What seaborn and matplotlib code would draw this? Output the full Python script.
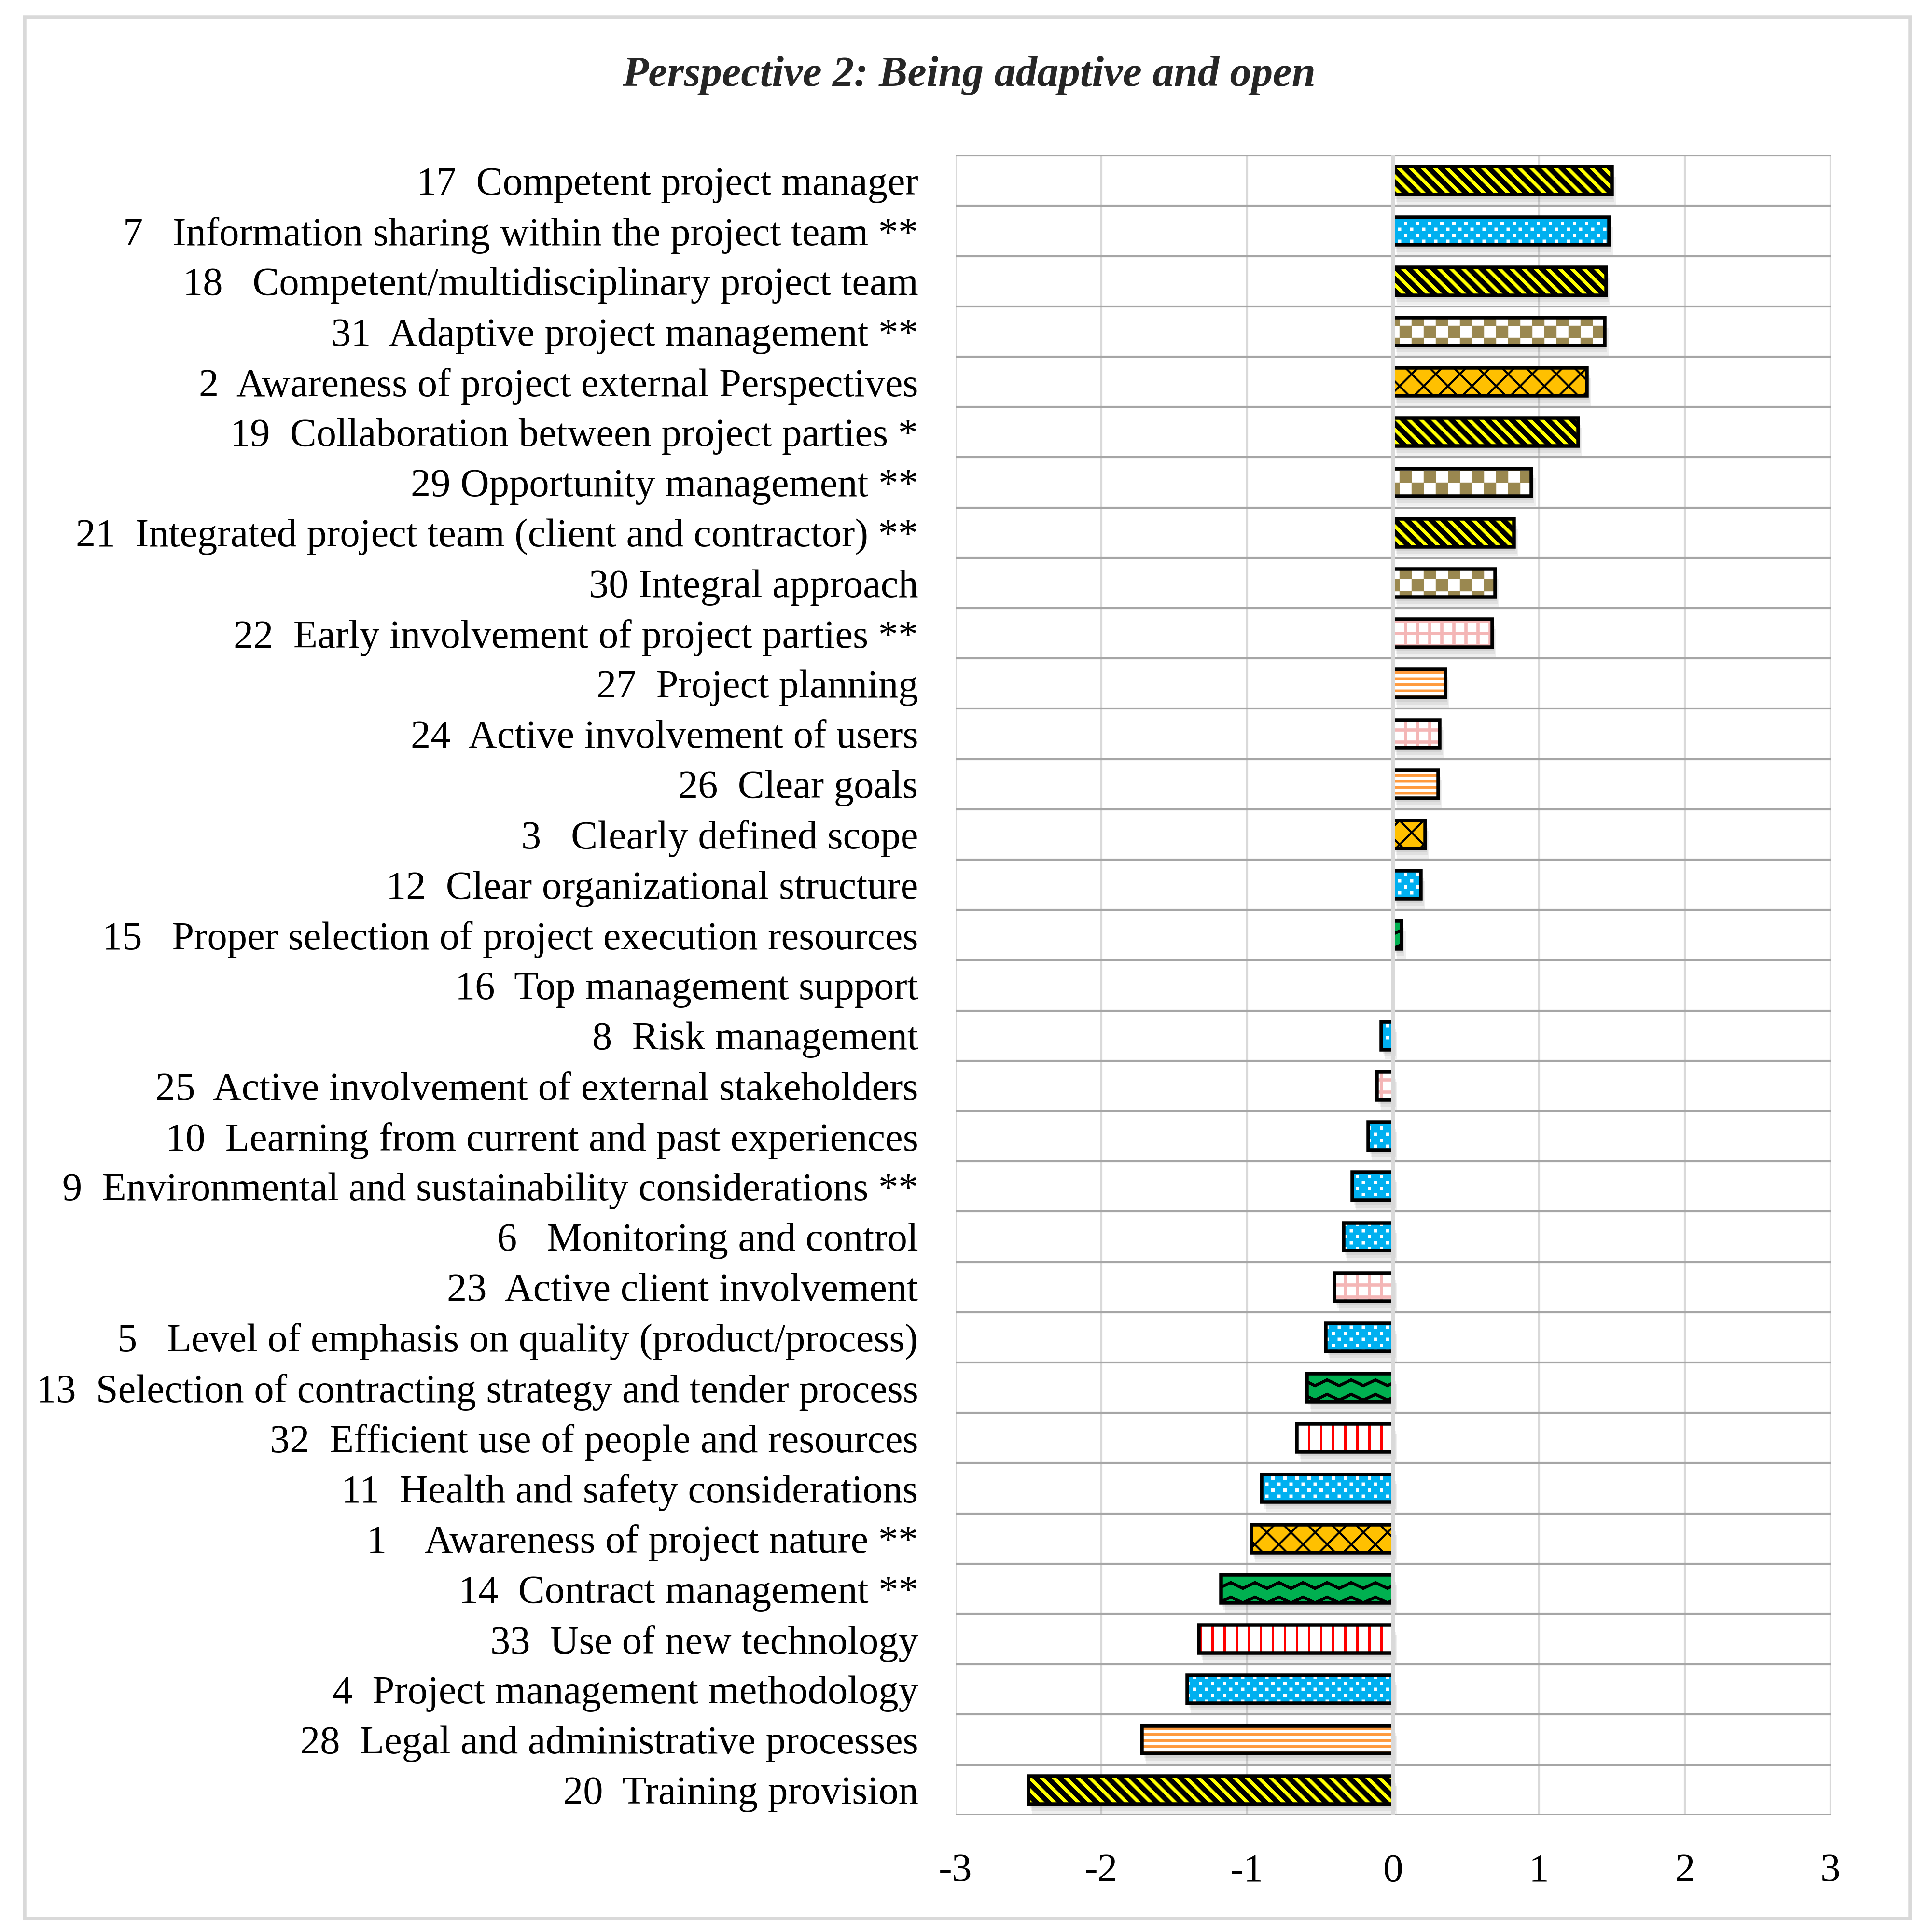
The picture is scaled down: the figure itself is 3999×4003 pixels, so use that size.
import numpy as np
import pandas as pd
import seaborn as sns
import matplotlib
matplotlib.use('Agg')
import matplotlib.pyplot as plt
import matplotlib.hatch as mhatch
import matplotlib.patheffects as pe
from matplotlib.path import Path
from matplotlib.colors import to_rgba
from matplotlib.patches import Rectangle
from matplotlib.transforms import Affine2D

title = 'Perspective 2: Being adaptive and open'

labels = [
    '17  Competent project manager',
    '7   Information sharing within the project team **',
    '18   Competent/multidisciplinary project team',
    '31  Adaptive project management **',
    '2  Awareness of project external Perspectives',
    '19  Collaboration between project parties *',
    '29 Opportunity management **',
    '21  Integrated project team (client and contractor) **',
    '30 Integral approach',
    '22  Early involvement of project parties **',
    '27  Project planning',
    '24  Active involvement of users',
    '26  Clear goals',
    '3   Clearly defined scope',
    '12  Clear organizational structure',
    '15   Proper selection of project execution resources',
    '16  Top management support',
    '8  Risk management',
    '25  Active involvement of external stakeholders',
    '10  Learning from current and past experiences',
    '9  Environmental and sustainability considerations **',
    '6   Monitoring and control',
    '23  Active client involvement',
    '5   Level of emphasis on quality (product/process)',
    '13  Selection of contracting strategy and tender process',
    '32  Efficient use of people and resources',
    '11  Health and safety considerations',
    '1    Awareness of project nature **',
    '14  Contract management **',
    '33  Use of new technology',
    '4  Project management methodology',
    '28  Legal and administrative processes',
    '20  Training provision',
]

values = [1.50, 1.48, 1.46, 1.45, 1.33, 1.27, 0.95, 0.83, 0.70, 0.68,
          0.36, 0.32, 0.31, 0.22, 0.19, 0.06, 0.00, -0.08, -0.11, -0.17,
          -0.28, -0.34, -0.40, -0.46, -0.59, -0.66, -0.90, -0.97, -1.18,
          -1.33, -1.41, -1.72, -2.50]

groups = ['diag', 'dots', 'diag', 'check', 'gold', 'diag', 'check', 'diag',
          'check', 'grid', 'hstripe', 'grid', 'hstripe', 'gold', 'dots',
          'green', 'diag', 'dots', 'grid', 'dots', 'dots', 'dots', 'grid',
          'dots', 'green', 'vstripe', 'dots', 'gold', 'green', 'vstripe',
          'dots', 'hstripe', 'diag']

xticks = [-3, -2, -1, 0, 1, 2, 3]

# face colour, hatch, hatch colour, hatch line width (pt)
styles = {
    'diag':    ('black', '\\\\\\\\', '#FFFF00', 1.7),
    'dots':    ('#00B0F0', 'oo', 'white', 0.3),
    'check':   ('white', 'OO', '#9A8850', 0.1),
    'gold':    ('#FFC000', 'xx', 'black', 1.0),
    'grid':    ('white', '++', '#F4B6B6', 1.6),
    'hstripe': ('white', '----', '#FF9A3C', 1.3),
    'green':   ('#00B050', '*', 'black', 1.4),
    'vstripe': ('white', '||', '#FF0000', 1.2),
}


# extra fill patterns (checkerboard, square dots, zigzag) in place of the
# circle / star hatches, which are not used here
class CheckerHatch(mhatch.HatchPatternBase):
    def __init__(self, hatch, density):
        self.n = hatch.count('O') * density
        self.cells = [(i, j) for i in range(self.n) for j in range(self.n)
                      if (i + j) % 2 == 0]
        self.num_vertices = len(self.cells) * 5

    def set_vertices_and_codes(self, vertices, codes):
        d = 1.0 / self.n
        box = np.array([[0, 0], [d, 0], [d, d], [0, d], [0, 0]])
        vertices[:] = np.concatenate([box + [i * d, j * d] for i, j in self.cells])
        codes[:] = np.tile([Path.MOVETO, Path.LINETO, Path.LINETO,
                            Path.LINETO, Path.CLOSEPOLY], len(self.cells))


class DotHatch(mhatch.HatchPatternBase):
    half = 0.0095

    def __init__(self, hatch, density):
        self.n = hatch.count('o') * density
        self.centers = []
        for r in range(2 * self.n + 1 if self.n else 0):
            y = r / (2 * self.n)
            if r % 2 == 0:
                xs = np.arange(self.n + 1) / self.n
            else:
                xs = (np.arange(self.n) + 0.5) / self.n
            self.centers += [(x, y) for x in xs]
        self.num_vertices = len(self.centers) * 5

    def set_vertices_and_codes(self, vertices, codes):
        h = self.half
        box = np.array([[-h, -h], [h, -h], [h, h], [-h, h], [-h, -h]])
        vertices[:] = np.concatenate([box + c for c in self.centers])
        codes[:] = np.tile([Path.MOVETO, Path.LINETO, Path.LINETO,
                            Path.LINETO, Path.CLOSEPOLY], len(self.centers))


class ZigZagHatch(mhatch.HatchPatternBase):
    amp = 0.02

    def __init__(self, hatch, density):
        c = hatch.count('*')
        self.rows = 10 * c
        self.teeth = 6 * c
        self.per_row = 2 * (2 * self.teeth + 1) - 1
        self.num_vertices = self.rows * self.per_row

    def set_vertices_and_codes(self, vertices, codes):
        xs = np.linspace(0, 1, 2 * self.teeth + 1)
        wave = np.where(np.arange(len(xs)) % 2 == 0, self.amp, -self.amp)
        parts = []
        for k in range(self.rows):
            line = np.column_stack([xs, (k + 0.5) / self.rows + wave])
            parts.append(np.concatenate([line, line[-2::-1]]))
        vertices[:] = np.concatenate(parts)
        row_codes = np.full(self.per_row, Path.LINETO)
        row_codes[0] = Path.MOVETO
        codes[:] = np.tile(row_codes, self.rows)


swap = {mhatch.SmallCircles: DotHatch, mhatch.LargeCircles: CheckerHatch,
        mhatch.Stars: ZigZagHatch}
mhatch._hatch_types = [swap.get(t, t) for t in mhatch._hatch_types]


class SoftShadow(pe.AbstractPathEffect):
    def __init__(self, steps=(2.0, 3.5, 5.0), alpha=0.08):
        super().__init__()
        self.steps = steps
        self.alpha = alpha

    def draw_path(self, renderer, gc, tpath, affine, rgbFace=None):
        for off in self.steps:
            gc0 = renderer.new_gc()
            gc0.copy_properties(gc)
            gc0.set_hatch(None)
            gc0.set_linewidth(0)
            gc0.set_alpha(self.alpha)
            px = renderer.points_to_pixels(off)
            renderer.draw_path(gc0, tpath, affine + Affine2D().translate(px * 0.4, -px),
                               (0.2, 0.2, 0.2))
            gc0.restore()


sns.set_style('white')
plt.rcParams['font.family'] = ['Liberation Serif', 'DejaVu Serif']
plt.rcParams['hatch.linewidth'] = 1.2

df = pd.DataFrame({'label': labels, 'value': values, 'group': groups})

fig = plt.figure(figsize=(3999 / 300, 4003 / 300), dpi=300)
ax = fig.add_axes([0.495, 0.0605, 0.4535, 0.859])

sns.barplot(data=df, x='value', y='label', orient='h', color='white',
            saturation=1, width=0.555, edgecolor='black', linewidth=1.8,
            errorbar=None, ax=ax)

for p in ax.patches:
    i = int(round(p.get_y() + p.get_height() / 2))
    face, hatch, hcol, hlw = styles[groups[i]]
    p.set_facecolor(face)
    p.set_edgecolor('black')
    p.set_hatch(hatch)
    p._hatch_color = to_rgba(hcol)
    if hasattr(p, 'set_hatch_linewidth'):
        p.set_hatch_linewidth(hlw)
    p.set_path_effects([SoftShadow(), pe.Normal()])
    p.set_zorder(2)

ax.set_xlim(-3, 3)
ax.set_ylim(len(labels) - 0.5, -0.5)
ax.set_xticks(xticks)
ax.set_xticklabels([str(t) for t in xticks])
ax.set_yticks(np.arange(-0.5, len(labels)), minor=True)
ax.set_axisbelow(True)
ax.grid(axis='x', which='major', color='#D9D9D9', lw=1.0)
ax.grid(axis='y', which='major', visible=False)
ax.grid(axis='y', which='minor', color='#A6A6A6', lw=1.0)
ax.axvline(0, color='#D9D9D9', lw=2.1, zorder=3)
for s in ax.spines.values():
    s.set_visible(False)
ax.tick_params(axis='both', which='both', length=0)
ax.tick_params(axis='y', labelsize=19.8, pad=18.5, labelcolor='black')
ax.tick_params(axis='x', labelsize=20, pad=19, labelcolor='black')
ax.set_xlabel('')
ax.set_ylabel('')

fig.text(0.502, 0.961, title, ha='center', va='center', fontsize=21.3,
         fontweight='bold', fontstyle='italic')

fig.patches.append(Rectangle((0.0128, 0.007), 0.977, 0.984, transform=fig.transFigure,
                             fill=False, edgecolor='#D9D9D9', lw=1.8))

fig.savefig('out.png', dpi=300)
